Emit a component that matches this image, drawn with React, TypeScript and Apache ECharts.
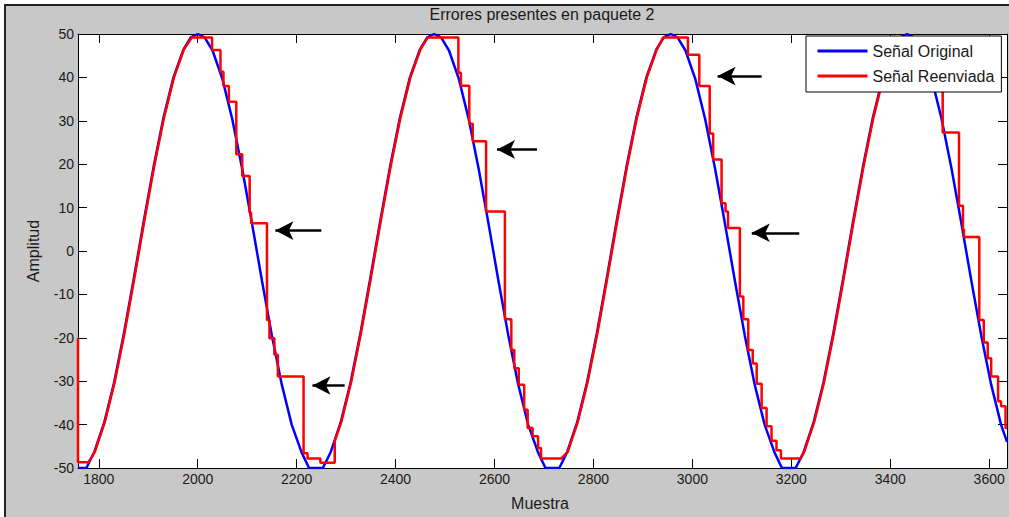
import React, { useEffect, useRef } from "react";
import * as echarts from "echarts";

const TITLE = "Errores presentes en paquete 2";
const X_NAME = "Muestra";
const Y_NAME = "Amplitud";
const SERIES_NAMES = ["Señal Original", "Señal Reenviada"];
const X_TICKS = [1800, 2000, 2200, 2400, 2600, 2800, 3000, 3200, 3400, 3600];
const X_MIN = 1758;
const X_MAX = 3636;
const Y_MIN = -50;
const Y_MAX = 50;
const Y_STEP = 10;

// Señal Original (blue)
const blueX = [
  1758, 1775, 1791, 1811, 1831, 1851, 1871, 1891, 1911, 1931, 1951, 1971, 1986, 2000,
  2014, 2030, 2050, 2070, 2090, 2110, 2130, 2150, 2170, 2190, 2210, 2225,
  2253, 2269, 2289, 2309, 2329, 2349, 2369, 2389, 2409, 2429, 2449, 2464, 2478,
  2492, 2508, 2528, 2548, 2568, 2588, 2608, 2628, 2648, 2668, 2688, 2703,
  2731, 2747, 2767, 2787, 2807, 2827, 2847, 2867, 2887, 2907, 2927, 2942, 2956,
  2970, 2986, 3006, 3026, 3046, 3066, 3086, 3106, 3126, 3146, 3166, 3181,
  3209, 3225, 3245, 3265, 3285, 3305, 3325, 3345, 3365, 3385, 3405, 3420, 3434,
  3448, 3464, 3484, 3504, 3524, 3544, 3564, 3584, 3604, 3624, 3636,
];
const blueY = [
  -50, -50, -46.3, -39.5, -30.3, -18.9, -6.2, 6.9, 19.5, 30.8, 40.0, 46.4, 49.2, 50,
  49.2, 46.2, 39.6, 30.3, 18.9, 6.2, -6.9, -19.5, -30.8, -40.0, -46.4, -50,
  -50, -46.3, -39.5, -30.3, -18.9, -6.2, 6.9, 19.5, 30.8, 40.0, 46.4, 49.2, 50,
  49.2, 46.2, 39.6, 30.3, 18.9, 6.2, -6.9, -19.5, -30.8, -40.0, -46.4, -50,
  -50, -46.3, -39.5, -30.3, -18.9, -6.2, 6.9, 19.5, 30.8, 40.0, 46.4, 49.2, 50,
  49.2, 46.2, 39.6, 30.3, 18.9, 6.2, -6.9, -19.5, -30.8, -40.0, -46.4, -50,
  -50, -46.3, -39.5, -30.3, -18.9, -6.2, 6.9, 19.5, 30.8, 40.0, 46.4, 49.2, 50,
  49.2, 46.2, 39.6, 30.3, 18.9, 6.2, -6.9, -19.5, -30.8, -40.0, -44.0,
];

// Señal Reenviada (red), one list per cycle
const redCycle1 = [
  [1758, -20], [1758, -48.7], [1779, -48.7], [1792, -46.3], [1812, -39.5], [1832, -30.3], [1852, -18.9],
  [1872, -6.2], [1892, 6.9], [1912, 19.5], [1932, 30.8], [1952, 40.0], [1972, 46.4], [1988, 49.2],
  [2029, 49.2], [2029, 46.3], [2046, 46.3], [2046, 41.3], [2052, 41.3], [2052, 38.0], [2063, 38.0],
  [2063, 34.4], [2078, 34.4], [2078, 22.3], [2090, 22.3], [2090, 17.3], [2105, 17.3], [2105, 8.8],
  [2108, 8.8], [2108, 6.4], [2140, 6.4], [2140, -15.9], [2145, -15.9], [2145, -20.1], [2155, -20.1],
  [2155, -23.9], [2162, -23.9], [2162, -28.9], [2214, -28.9], [2214, -46.6], [2222, -46.6],
  [2222, -47.8], [2248, -47.8], [2248, -48.8], [2277, -48.8], [2277, -43.8],
];
const redCycle2 = [
  [2290, -39.5], [2310, -30.3], [2330, -18.9], [2350, -6.2], [2370, 6.9], [2390, 19.5], [2410, 30.8],
  [2430, 40.0], [2450, 46.4], [2465, 49.2],
  [2527, 49.2], [2527, 41.1], [2532, 41.1], [2532, 38.1], [2549, 38.1], [2549, 29.3], [2556, 29.3],
  [2556, 25.3], [2583, 25.3], [2583, 9.1], [2621, 9.1], [2621, -15.7], [2634, -15.7], [2634, -22.8],
  [2640, -22.8], [2640, -27.0], [2649, -27.0], [2649, -30.8], [2660, -30.8], [2660, -36.6],
  [2667, -36.6], [2667, -40.8], [2677, -40.8], [2677, -42.7], [2688, -42.7], [2688, -45.4],
  [2694, -45.4], [2694, -47.8], [2735, -47.8],
];
const redCycle3 = [
  [2748, -46.3], [2768, -39.5], [2788, -30.3], [2808, -18.9], [2828, -6.2], [2848, 6.9], [2868, 19.5],
  [2888, 30.8], [2908, 40.0], [2928, 46.4], [2941, 49.2],
  [2991, 49.2], [2991, 45.2], [3014, 45.2], [3014, 38.0], [3035, 38.0], [3035, 27.1], [3042, 27.1],
  [3042, 21.1], [3059, 21.1], [3059, 11.0], [3067, 11.0], [3067, 9.1], [3072, 9.1], [3072, 5.3],
  [3096, 5.3], [3096, -10.5], [3103, -10.5], [3103, -15.7], [3113, -15.7], [3113, -22.8],
  [3122, -22.8], [3122, -25.9], [3130, -25.9], [3130, -30.6], [3140, -30.6], [3140, -36.2],
  [3150, -36.2], [3150, -40.4], [3160, -40.4], [3160, -43.7], [3170, -43.7], [3170, -45.9],
  [3179, -45.9], [3179, -47.8], [3219, -47.8],
];
const redCycle4 = [
  [3226, -46.3], [3246, -39.5], [3266, -30.3], [3286, -18.9], [3306, -6.2], [3326, 6.9], [3346, 19.5],
  [3366, 30.8], [3386, 40.0], [3406, 46.4], [3421, 49.2],
  [3478, 49.2], [3478, 44.5], [3492, 44.5], [3492, 40.5], [3506, 40.5], [3506, 27.3], [3539, 27.3],
  [3539, 10.4], [3547, 10.4], [3547, 5.0], [3549, 5.0], [3549, 3.2], [3580, 3.2], [3580, -15.9],
  [3589, -15.9], [3589, -21.1], [3597, -21.1], [3597, -24.7], [3604, -24.7], [3604, -28.9],
  [3618, -28.9], [3618, -34.6], [3624, -34.6], [3624, -35.8], [3633, -35.8], [3633, -40.8],
  [3636, -40.8],
];

// Annotation arrows (pointing left)
const arrowTipX = [2157, 2232, 2605, 3051, 3120];
const arrowTailX = [2250, 2297, 2686, 3140, 3216];
const arrowY = [4.7, -31.0, 23.4, 40.3, 4.2];

const FONT = "'Liberation Sans', Arial, Helvetica, sans-serif";
const TEXT_COLOR = "#1a1a1a";

export default function App() {
  const ref = useRef<HTMLDivElement | null>(null);

  useEffect(() => {
    document.body.style.margin = "0";
    if (!ref.current) return;
    const chart = echarts.init(ref.current, undefined, { renderer: "svg" });

    const blueData = blueX.map((x, i) => [x, blueY[i]]);
    const redData = [...redCycle1, ...redCycle2, ...redCycle3, ...redCycle4];
    const arrows = arrowTipX.map((tip, i) => [
      { coord: [arrowTailX[i], arrowY[i]], symbol: "none" },
      { coord: [tip, arrowY[i]], symbol: "arrow" },
    ]);

    const axisLine = { show: true, onZero: false, lineStyle: { color: "#000", width: 1 } };
    const xTick = { show: true, inside: true, length: 9, customValues: X_TICKS, lineStyle: { color: "#000" } };
    const yTick = { show: true, inside: true, length: 9, lineStyle: { color: "#000" } };

    chart.setOption({
      animation: false,
      backgroundColor: "transparent",
      grid: {
        left: 78,
        top: 34,
        width: 929,
        height: 434,
        show: true,
        backgroundColor: "#fff",
        borderWidth: 0,
      },
      legend: {
        orient: "vertical",
        left: 806,
        top: 36,
        padding: [7, 7, 8, 10],
        itemGap: 9,
        itemWidth: 50,
        itemHeight: 14,
        backgroundColor: "#fff",
        borderColor: "#000",
        borderWidth: 1,
        borderRadius: 0,
        itemStyle: { opacity: 0 },
        lineStyle: { width: 3 },
        data: SERIES_NAMES,
        textStyle: { color: TEXT_COLOR, fontSize: 16, fontFamily: FONT },
      },
      xAxis: [
        {
          type: "value",
          min: X_MIN,
          max: X_MAX,
          position: "bottom",
          axisLine,
          axisTick: xTick,
          axisLabel: {
            customValues: X_TICKS,
            formatter: (v: number) => String(v),
            margin: 4,
            color: TEXT_COLOR,
            fontSize: 14,
            fontFamily: FONT,
          },
          splitLine: { show: false },
        },
        {
          type: "value",
          min: X_MIN,
          max: X_MAX,
          position: "top",
          axisLine,
          axisTick: xTick,
          axisLabel: { show: false },
          splitLine: { show: false },
        },
      ],
      yAxis: [
        {
          type: "value",
          min: Y_MIN,
          max: Y_MAX,
          interval: Y_STEP,
          position: "left",
          axisLine,
          axisTick: yTick,
          axisLabel: { margin: 4, color: TEXT_COLOR, fontSize: 14, fontFamily: FONT },
          splitLine: { show: false },
        },
        {
          type: "value",
          min: Y_MIN,
          max: Y_MAX,
          interval: Y_STEP,
          position: "right",
          axisLine,
          axisTick: yTick,
          axisLabel: { show: false },
          splitLine: { show: false },
        },
      ],
      series: [
        {
          name: SERIES_NAMES[0],
          type: "line",
          data: blueData,
          symbol: "none",
          showSymbol: false,
          lineStyle: { color: "#0000ff", width: 2.5 },
          itemStyle: { color: "#0000ff" },
          z: 2,
        },
        {
          name: SERIES_NAMES[1],
          type: "line",
          data: redData,
          symbol: "none",
          showSymbol: false,
          lineStyle: { color: "#ff0000", width: 2.5 },
          itemStyle: { color: "#ff0000" },
          z: 3,
          markLine: {
            silent: true,
            symbolSize: [14, 18],
            label: { show: false },
            lineStyle: { color: "#000", width: 2.5, type: "solid" },
            emphasis: { disabled: true },
            data: arrows,
          },
        },
      ],
      graphic: [
        {
          type: "text",
          x: 542,
          y: 14,
          style: {
            text: TITLE,
            fill: TEXT_COLOR,
            fontSize: 16,
            fontFamily: FONT,
            align: "center",
            verticalAlign: "middle",
          },
        },
        {
          type: "text",
          x: 540,
          y: 503,
          style: {
            text: X_NAME,
            fill: TEXT_COLOR,
            fontSize: 16,
            fontFamily: FONT,
            align: "center",
            verticalAlign: "middle",
          },
        },
        {
          type: "text",
          x: 33,
          y: 251,
          rotation: Math.PI / 2,
          style: {
            text: Y_NAME,
            fill: TEXT_COLOR,
            fontSize: 16,
            fontFamily: FONT,
            align: "center",
            verticalAlign: "middle",
          },
        },
      ],
    });

    return () => {
      chart.dispose();
    };
  }, []);

  return (
    <div
      style={{
        position: "fixed",
        left: 0,
        top: 0,
        width: 1009,
        height: 517,
        background: "#fff",
        overflow: "hidden",
      }}
    >
      <div
        style={{
          position: "absolute",
          left: 4,
          top: 4,
          width: 1020,
          height: 530,
          background: "#c8c8c8",
          borderLeft: "2px solid #222",
          borderTop: "2px solid #222",
        }}
      />
      <div ref={ref} style={{ position: "absolute", left: 0, top: 0, width: 1009, height: 517 }} />
    </div>
  );
}
